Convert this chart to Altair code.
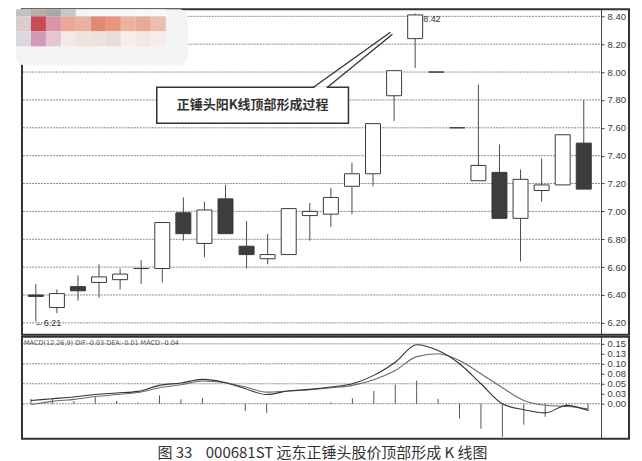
import altair as alt
import pandas as pd

# ---------------- data ----------------
idx = list(range(27))
opens = [6.40, 6.31, 6.46, 6.49, 6.51, 6.59, 6.59, 6.99, 6.77, 7.09, 6.75, 6.66, 6.69, 6.97,
         6.98, 7.18, 7.27, 7.83, 8.24, 8.00, 7.60, 7.22, 7.28, 6.95, 7.15, 7.19, 7.49]
closes = [6.39, 6.41, 6.43, 6.53, 6.55, 6.59, 6.92, 6.84, 7.01, 6.84, 6.69, 6.69, 7.02, 7.00,
          7.10, 7.27, 7.63, 8.01, 8.41, 8.00, 7.60, 7.33, 6.95, 7.23, 7.19, 7.55, 7.16]
highs = [6.48, 6.44, 6.54, 6.62, 6.59, 6.65, 6.92, 7.10, 7.07, 7.19, 6.93, 6.84, 7.02, 7.06,
         7.17, 7.35, 7.63, 8.01, 8.42, 8.00, 7.60, 7.91, 7.48, 7.30, 7.38, 7.55, 7.80]
lows = [6.21, 6.27, 6.36, 6.38, 6.44, 6.48, 6.49, 6.79, 6.67, 6.84, 6.59, 6.62, 6.69, 6.79,
        6.89, 6.98, 7.18, 7.65, 8.03, 8.00, 7.60, 7.22, 6.95, 6.64, 7.07, 7.19, 7.16]

dif = [0.008, 0.0125, 0.017, 0.023, 0.027, 0.031, 0.046, 0.052, 0.061, 0.054, 0.0375, 0.023, 0.032,
       0.036, 0.042, 0.050, 0.071, 0.104, 0.1475, 0.133, 0.100, 0.050, 0.000, -0.015, -0.023,
       -0.004, -0.017]
dea = [-0.002, 0.006, 0.011, 0.018, 0.023, 0.028, 0.040, 0.0475, 0.057, 0.053, 0.042, 0.029, 0.032,
       0.035, 0.040, 0.046, 0.060, 0.083, 0.118, 0.125, 0.108, 0.075, 0.040, 0.008, -0.004,
       -0.007, -0.0125]
macd = [0.012, 0.014, 0.007, 0.017, 0.007, 0.003, 0.021, 0.011, 0.014, 0.002, -0.018, -0.023, 0.0,
        0.002, 0.003, 0.014, 0.032, 0.048, 0.058, 0.0125, -0.0375, -0.0625, -0.083, -0.0525,
        -0.033, -0.004, -0.018]

price_ticks = [8.40, 8.20, 8.00, 7.80, 7.60, 7.40, 7.20, 7.00, 6.80, 6.60, 6.40, 6.20]
macd_ticks = [0.15, 0.125, 0.10, 0.075, 0.05, 0.025, 0.0]
macd_tick_labels = ["0.15", "0.13", "0.10", "0.08", "0.05", "0.03", "0.00"]
macd_grid = [0.15, 0.10, 0.05, 0.0]

annotation = "正锤头阳K线顶部形成过程"
macd_header = "MACD(12,26,9) DIF:-0.03 DEA:-0.01 MACD:-0.04"
caption = "图 33\u00a0\u00a0\u00a0\u00a0000681ST 远东正锤头股价顶部形成 K 线图"

mosaic_rows = [
    ["#c2c2c2", "#b9aca9", "#aba7a5", "#c6c8ca", "#f4f4f4", "#f5f5f5", "#f6f6f6", "#f6f6f6", "#f7f7f7", "#f7f7f7"],
    ["#dccdcc", "#c94b56", "#dc95a8", "#e9a898", "#e9b2a2", "#e18a72", "#e99681", "#edb2a1", "#e9a898", "#edbdb1"],
    ["#dcd9dd", "#d09abd", "#e5c5d1", "#f4e9e5", "#f0e2dd", "#ede1dd", "#e9ddd9", "#f8ede9", "#f4e6e1", "#f4edeb"],
]

# ---------------- frames ----------------
df = pd.DataFrame({"i": idx, "open": opens, "close": closes, "high": highs, "low": lows})
df["dir"] = ["up" if c > o else ("down" if c < o else "flat") for o, c in zip(opens, closes)]
mdf = pd.DataFrame({"i": idx, "dif": dif, "dea": dea, "macd": macd})
label_map = "{" + ",".join(f"'{v:g}':'{t}'" for v, t in zip(macd_ticks, macd_tick_labels)) + "}"

W, H1, H2 = 608, 326, 102
xs = alt.Scale(domain=[-0.42, 27.91], nice=False, zero=False)
ys = alt.Scale(domain=[6.114, 8.45], nice=False, zero=False)
ms = alt.Scale(domain=[-0.0875, 0.1675], nice=False, zero=False)

INK = "#3a3a3a"
GRID = dict(color="#8c8c8c", strokeWidth=1, strokeDash=[2, 1])
axis_common = dict(orient="right", offset=-28, title=None, grid=False,
                   labelFontSize=9.5, labelColor="#3a3a3a", labelFont="Liberation Sans",
                   domainColor="#444", tickColor="#444", tickSize=3, labelPadding=3)
yaxis = alt.Axis(values=price_ticks, format=".2f", **axis_common)
maxis = alt.Axis(values=macd_ticks, labelExpr=label_map + "[toString(datum.value)]", **axis_common)

one = pd.DataFrame({"d": [0]})


def box(x1, x2, y1, y2, **kw):
    return alt.Chart(one).mark_rect(**kw).encode(
        x=alt.value(x1), x2=alt.value(x2), y=alt.value(y1), y2=alt.value(y2))


# ---------------- main (price) panel ----------------
grid = alt.Chart(pd.DataFrame({"gv": price_ticks})).mark_rule(**GRID).encode(
    y=alt.Y("gv:Q", scale=ys, axis=yaxis),
    x=alt.value(1), x2=alt.value(579))

wick = alt.Chart(df).mark_rule(color="#4a4a4a", strokeWidth=1).encode(
    x=alt.X("i:Q", scale=xs, axis=None),
    y=alt.Y("low:Q", scale=ys, axis=yaxis), y2="high:Q")

body = alt.Chart(df).mark_bar(size=15, stroke=INK, strokeWidth=1).encode(
    x=alt.X("i:Q", scale=xs, axis=None),
    y=alt.Y("open:Q", scale=ys, axis=yaxis), y2="close:Q",
    fill=alt.Fill("dir:N", scale=alt.Scale(domain=["up", "down", "flat"],
                                           range=["#ffffff", "#3d3d3d", "#3d3d3d"]), legend=None))

peak_i = highs.index(max(highs))
low_i = lows.index(min(lows))
hi_lbl = alt.Chart(pd.DataFrame({"i": [peak_i], "y": [highs[peak_i]], "t": [f"{highs[peak_i]:.2f}"]})).mark_text(
    align="left", baseline="middle", dx=8, dy=5, fontSize=9, font="Liberation Sans", color="#333").encode(
    x=alt.X("i:Q", scale=xs, axis=None), y=alt.Y("y:Q", scale=ys, axis=yaxis), text="t:N")
lo_lbl = alt.Chart(pd.DataFrame({"i": [low_i], "y": [lows[low_i]], "t": [f"←{lows[low_i]:.2f}"]})).mark_text(
    align="left", baseline="middle", dx=-1, dy=2, fontSize=9, font="Liberation Sans", color="#333").encode(
    x=alt.X("i:Q", scale=xs, axis=None), y=alt.Y("y:Q", scale=ys, axis=yaxis), text="t:N")

# callout
call_box = box(135, 327, 78, 114, fill="white", stroke="#333", strokeWidth=1.5)
gap = alt.Chart(one).mark_rule(color="white", strokeWidth=2).encode(
    x=alt.value(293), x2=alt.value(305), y=alt.value(78))
ptr1 = alt.Chart(one).mark_rule(color="#333", strokeWidth=1.3).encode(
    x=alt.value(292), x2=alt.value(369), y=alt.value(78), y2=alt.value(23))
ptr2 = alt.Chart(one).mark_rule(color="#333", strokeWidth=1.3).encode(
    x=alt.value(306), x2=alt.value(371), y=alt.value(78), y2=alt.value(25))
call_txt = alt.Chart(one).mark_text(
    fontSize=13, fontWeight="bold", font="Noto Sans CJK SC", color="#333",
    align="center", baseline="middle").encode(
    x=alt.value(231), y=alt.value(96), text=alt.value(annotation))

# redaction mosaic in the top-left corner
mosaic = [box(-6, 166, 0, 56, fill="#f4f4f4", cornerRadius=8)]
row_tops = [0, 7, 22]
row_h = [7, 15, 15]
for r, colors in enumerate(mosaic_rows):
    for c, col in enumerate(colors):
        x0 = -6 + 15 * c
        mosaic.append(box(x0, x0 + 15, row_tops[r], row_tops[r] + row_h[r], fill=col))

main = alt.layer(grid, wick, body, hi_lbl, lo_lbl, call_box, gap, ptr1, ptr2, call_txt, *mosaic).properties(
    width=W, height=H1)

# ---------------- MACD panel ----------------
mgrid = alt.Chart(pd.DataFrame({"mv": macd_grid})).mark_rule(**GRID).encode(
    y=alt.Y("mv:Q", scale=ms, axis=maxis), x=alt.value(1), x2=alt.value(579))
hist = alt.Chart(mdf).mark_rule(color="#555", strokeWidth=1).encode(
    x=alt.X("i:Q", scale=xs, axis=None),
    y=alt.Y("macd:Q", scale=ms, axis=maxis), y2=alt.datum(0))
l_dif = alt.Chart(mdf).mark_line(color="#333", strokeWidth=1.1, interpolate="monotone").encode(
    x=alt.X("i:Q", scale=xs, axis=None), y=alt.Y("dif:Q", scale=ms, axis=maxis))
l_dea = alt.Chart(mdf).mark_line(color="#6a6a6a", strokeWidth=1.1, interpolate="monotone").encode(
    x=alt.X("i:Q", scale=xs, axis=None), y=alt.Y("dea:Q", scale=ms, axis=maxis))
m_head = alt.Chart(one).mark_text(
    fontSize=6.5, font="DejaVu Sans", color="#555", align="left", baseline="top").encode(
    x=alt.value(2), y=alt.value(3), text=alt.value(macd_header))
sub = alt.layer(mgrid, hist, l_dea, l_dif, m_head).properties(width=W, height=H2)

chart = alt.vconcat(main, sub, spacing=0).properties(
    title=alt.TitleParams(text=caption, orient="bottom", anchor="middle", fontSize=15,
                          font="Noto Sans CJK SC", fontWeight="normal", color="#333", offset=6),
    padding={"left": 7, "top": 0, "right": 4, "bottom": 0},
    background="white",
).configure_view(stroke="#333", strokeWidth=2)

chart.save("out.html", embed_options={"renderer": "svg", "actions": False})
